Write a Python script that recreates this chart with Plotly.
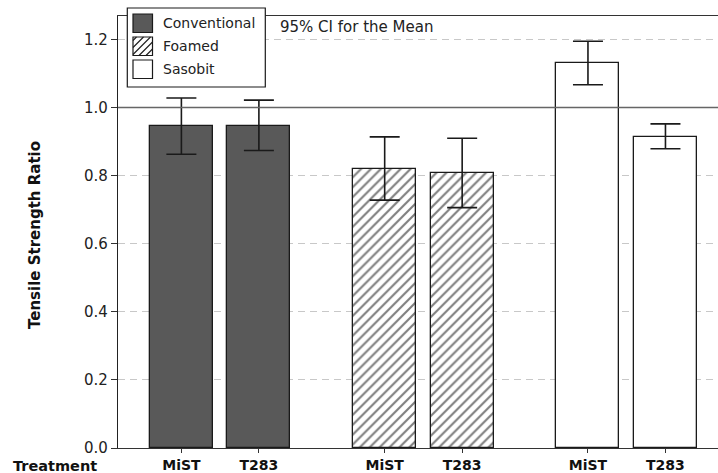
import plotly.graph_objects as go

# Tensile strength ratio by mix type and treatment, with 95% CI of the mean
groups = ["Conventional", "Foamed", "Sasobit"]
treatments = ["MiST", "T283"]

conventional_mean = [0.947, 0.947]
conventional_ci_low = [0.863, 0.874]
conventional_ci_high = [1.028, 1.022]

foamed_mean = [0.821, 0.809]
foamed_ci_low = [0.728, 0.706]
foamed_ci_high = [0.914, 0.910]

sasobit_mean = [1.130, 0.914]
sasobit_ci_low = [1.067, 0.879]
sasobit_ci_high = [1.195, 0.952]

y_ticks = [0.0, 0.2, 0.4, 0.6, 0.8, 1.0, 1.2]

FONT = "DejaVu Sans, Verdana, sans-serif"
GROUP_STEP = 2.623
BAR_WIDTH = 0.813
INK = "#1a1a1a"

W, H = 718, 473
M_L, M_R, M_T, M_B = 118, 0, 16, 25
PLOT_W = W - M_L - M_R
PLOT_H = H - M_T - M_B


def px_x(px):
    return (px - M_L) / PLOT_W


def px_y(py):
    return (H - M_B - py) / PLOT_H


means = [conventional_mean, foamed_mean, sasobit_mean]
lows = [conventional_ci_low, foamed_ci_low, sasobit_ci_low]
highs = [conventional_ci_high, foamed_ci_high, sasobit_ci_high]

hatch = dict(shape="/", size=7, solidity=0.3, fgcolor="#000000",
             bgcolor="white", fillmode="overlay")
styles = [
    dict(color="#595959"),
    dict(color="white", pattern=hatch),
    dict(color="white"),
]

fig = go.Figure()
tick_pos, tick_text = [], []
for g, name in enumerate(groups):
    xs = [g * GROUP_STEP + i for i in range(len(treatments))]
    tick_pos += xs
    tick_text += [f"<b>{t}</b>" for t in treatments]
    m = means[g]
    fig.add_trace(go.Bar(
        name=name, x=xs, y=m, width=BAR_WIDTH, showlegend=False,
        marker=dict(line=dict(color=INK, width=1.3), **styles[g]),
        error_y=dict(type="data", symmetric=False,
                     array=[h - v for h, v in zip(highs[g], m)],
                     arrayminus=[v - l for v, l in zip(m, lows[g])],
                     color=INK, thickness=1.6, width=15),
    ))

fig.update_layout(
    width=W, height=H,
    margin=dict(l=M_L, r=M_R, t=M_T, b=M_B),
    paper_bgcolor="white", plot_bgcolor="white",
    font=dict(family=FONT, color=INK, size=14),
    showlegend=False,
    xaxis=dict(range=[-0.818, 6.924], tickvals=tick_pos, ticktext=tick_text,
               ticks="outside", ticklen=4, tickcolor="#333",
               showline=True, linecolor="#333", linewidth=1.2, mirror=True,
               showgrid=False, zeroline=False,
               tickfont=dict(size=14, family=FONT, color="#111")),
    yaxis=dict(range=[0, 1.269], tickvals=y_ticks, tickformat=".1f",
               ticks="outside", ticklen=6, tickcolor="#333",
               showline=True, linecolor="#222", linewidth=1.3,
               showgrid=True, gridcolor="#c8c8c8", griddash="7px,5px",
               gridwidth=1, zeroline=False,
               tickfont=dict(size=15, family=FONT, color="#222")),
    bargap=0,
)

# reference line at ratio 1.0
fig.add_shape(type="line", xref="paper", x0=0, x1=1, yref="y", y0=1.0, y1=1.0,
              line=dict(color="#666666", width=1.4), layer="above")

# legend box with larger swatches
box = (127.3, 8.0, 265.3, 87.0)
fig.add_shape(type="rect", xref="paper", yref="paper",
              x0=px_x(box[0]), x1=px_x(box[2]), y0=px_y(box[3]), y1=px_y(box[1]),
              line=dict(color=INK, width=1.2), fillcolor="white", layer="above")

sw_x0, sw_x1 = 133.0, 152.5
row_tops = [14.0, 37.0, 60.0]
sw_h = 18.5
swatch_fill = ["#595959", "white", "white"]
for r, name in enumerate(groups):
    y0 = row_tops[r]
    y1 = y0 + sw_h
    fig.add_shape(type="rect", xref="paper", yref="paper",
                  x0=px_x(sw_x0), x1=px_x(sw_x1), y0=px_y(y1), y1=px_y(y0),
                  line=dict(color=INK, width=1.2), fillcolor=swatch_fill[r],
                  layer="above")
    if name == "Foamed":
        # diagonal hatch lines clipped to the swatch
        step = 7.0
        w = sw_x1 - sw_x0
        h = sw_h
        c = -h + step * 0.5
        while c < w:
            # line: x = c + t, y(from bottom) = t
            t0 = max(0.0, -c)
            t1 = min(h, w - c)
            if t1 > t0:
                fig.add_shape(type="line", xref="paper", yref="paper",
                              x0=px_x(sw_x0 + c + t0), y0=px_y(y1 - t0),
                              x1=px_x(sw_x0 + c + t1), y1=px_y(y1 - t1),
                              line=dict(color=INK, width=1.1), layer="above")
            c += step
    fig.add_annotation(text=name, xref="paper", yref="paper",
                       x=px_x(161.0), y=px_y(y0 + sw_h / 2), xanchor="left",
                       yanchor="middle", showarrow=False,
                       font=dict(size=14, family=FONT, color="#222"))

fig.add_annotation(text="95% CI for the Mean", xref="paper", yref="paper",
                   x=px_x(277.5), y=px_y(27.5), xanchor="left", yanchor="middle",
                   showarrow=False, font=dict(size=15, family=FONT, color="#222"))
fig.add_annotation(text="<b>Tensile Strength Ratio</b>", xref="paper", yref="paper",
                   x=px_x(35.0), y=px_y(235.0), textangle=-90, xanchor="center",
                   yanchor="middle", showarrow=False,
                   font=dict(size=15, family=FONT, color="#111"))
fig.add_annotation(text="<b>Treatment</b>", xref="paper", yref="paper",
                   x=px_x(11.0), y=px_y(466.0), xanchor="left", yanchor="middle",
                   showarrow=False, font=dict(size=14.5, family=FONT, color="#111"))

fig.write_html("out.html")
